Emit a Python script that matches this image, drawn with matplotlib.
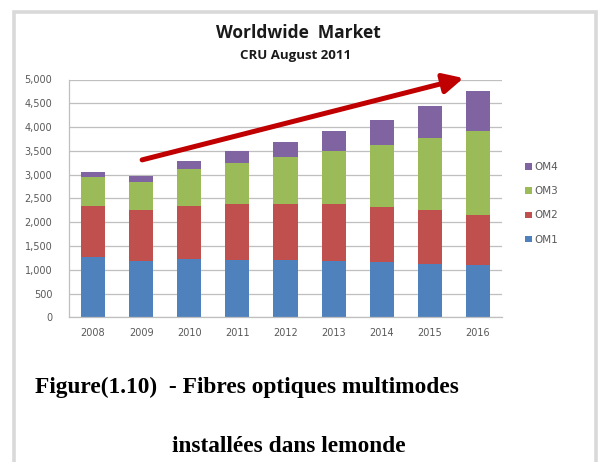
import matplotlib.pyplot as plt
from matplotlib.patches import Rectangle
import numpy as np

# multimode fibre installed base per year (CRU, August 2011)
years = ["2008", "2009", "2010", "2011", "2012", "2013", "2014", "2015", "2016"]
om1 = [1275, 1185, 1235, 1200, 1200, 1185, 1170, 1120, 1095]
om2 = [1075, 1065, 1115, 1190, 1190, 1195, 1145, 1140, 1065]
om3 = [605, 590, 765, 855, 990, 1120, 1305, 1515, 1760]
om4 = [110, 125, 170, 245, 315, 415, 530, 660, 835]
series = ["OM1", "OM2", "OM3", "OM4"]
colors = ["#4F81BD", "#C0504D", "#9BBB59", "#8064A2"]
yticks = [0, 500, 1000, 1500, 2000, 2500, 3000, 3500, 4000, 4500, 5000]

W, H = 600, 462
fig = plt.figure(figsize=(W / 100, H / 100), dpi=100)
fig.patch.set_facecolor("white")

# light grey frame round the whole figure
fig.add_artist(Rectangle((13.5 / W, -0.05), (596 - 13.5) / W, 1.05 - 11.5 / H,
                         transform=fig.transFigure, fill=False,
                         edgecolor="#d9d9d9", linewidth=2.6))

ax = fig.add_axes([69 / W, 1 - 317.3 / H, (502 - 69) / W, (317.3 - 79.5) / H])
x = np.arange(len(years))
bottom = np.zeros(len(years))
for name, vals, col in zip(series, [om1, om2, om3, om4], colors):
    ax.bar(x, vals, 0.5, bottom=bottom, color=col, label=name, zorder=2)
    bottom += np.array(vals)

ax.set_xlim(-0.5, len(years) - 0.5)
ax.set_ylim(0, 5000)
ax.set_yticks(yticks)
ax.set_yticklabels([f"{v:,}" for v in yticks])
ax.set_xticks(x)
ax.set_xticklabels(years)
ax.tick_params(length=0, labelsize=7, colors="#595959", pad=8)
ax.tick_params(axis="y", pad=12)
ax.grid(axis="y", color="#bfbfbf", linewidth=0.9, zorder=0)
for side in ["top", "right"]:
    ax.spines[side].set_visible(False)
for side in ["left", "bottom"]:
    ax.spines[side].set_color("#bfbfbf")
    ax.spines[side].set_linewidth(0.9)

# growth arrow
ax.annotate("", xy=(7.7, 5030), xytext=(1.02, 3310),
            arrowprops=dict(arrowstyle="-|>,head_length=1.2,head_width=0.6",
                            color="#c00000", lw=3.6, shrinkA=0, shrinkB=0),
            annotation_clip=False, zorder=5)

handles, labels = ax.get_legend_handles_labels()
fig.legend(handles[::-1], labels[::-1], loc="upper left",
           bbox_to_anchor=(516 / W, 1 - 153 / H), frameon=False,
           fontsize=7.5, handlelength=0.6, handleheight=0.6, handletextpad=0.3,
           labelspacing=1.35, labelcolor="#595959")

fig.text(298 / W, 1 - 33 / H, "Worldwide  Market", ha="center", va="center",
         fontsize=12.5, fontweight="bold", color="#1a1a1a", family="Open Sans")
fig.text(296 / W, 1 - 56 / H, "CRU August 2011", ha="center", va="center",
         fontsize=9.5, fontweight="bold", color="#1a1a1a", family="Open Sans")

fig.text(35 / W, 1 - 393 / H, "Figure(1.10)  - Fibres optiques multimodes",
         ha="left", va="baseline", fontsize=16.8, fontweight="bold",
         family="Liberation Serif")
fig.text(172 / W, 1 - 451.5 / H, "installées dans lemonde",
         ha="left", va="baseline", fontsize=16.8, fontweight="bold",
         family="Liberation Serif")

fig.savefig("out.png", dpi=100)
